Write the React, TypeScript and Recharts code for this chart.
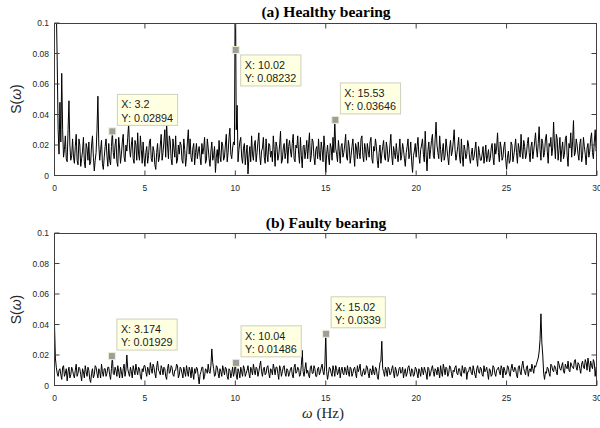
import React from 'react';
import { LineChart, Line, XAxis, YAxis, Scatter } from 'recharts';

const FREQ_STEP = 0.1;
const HALF_STEP = 0.05;
const X_TICKS = [0, 5, 10, 15, 20, 25, 30];
const Y_TICKS = [0, 0.02, 0.04, 0.06, 0.08, 0.1];

// (a) Healthy bearing, S(w) read at 0, 0.1, 0.2 ... 30 Hz
const healthy = [
  0.16, 0.11, 0.03, 0.048, 0.067, 0.012, 0.026, 0.009, 0.049, 0.01,
  0.024, 0.008, 0.027, 0.007, 0.02, 0.011, 0.025, 0.005, 0.018, 0.022,
  0.009, 0.026, 0.003, 0.015, 0.052, 0.01, 0.023, 0.004, 0.019, 0.013,
  0.021, 0.007, 0.029, 0.011, 0.024, 0.006, 0.018, 0.014, 0.027, 0.009,
  0.016, 0.034, 0.012, 0.025, 0.008, 0.02, 0.028, 0.01, 0.017, 0.022,
  0.006, 0.019, 0.013, 0.024, 0.009, 0.016, 0.004, 0.021, 0.012, 0.027,
  0.015, 0.03, 0.035, 0.011, 0.023, 0.007, 0.018, 0.026, 0.01, 0.014,
  0.02, 0.008, 0.017, 0.012, 0.03, 0.024, 0.009, 0.021, 0.015, 0.011,
  0.019, 0.007, 0.014, 0.025, 0.01, 0.018, 0.006, 0.022, 0.013, 0.002,
  0.017, 0.023, 0.009, 0.02, 0.012, 0.027, 0.015, 0.031, 0.011, 0.022,
  0.14, 0.046, 0.017, 0.025, 0.008, 0.021, 0.014, 0.001, 0.019, 0.026,
  0.01, 0.023, 0.015, 0.028, 0.007, 0.018, 0.012, 0.024, 0.009, 0.02,
  0.016, 0.026, 0.006, 0.019, 0.013, 0.029, 0.01, 0.021, 0.015, 0.008,
  0.023, 0.012, 0.027, 0.009, 0.018, 0.014, 0.025, 0.005, 0.02, 0.016,
  0.011, 0.028, 0.013, 0.022, 0.007, 0.019, 0.024, 0.01, 0.017, 0.026,
  0.002, 0.02, 0.007, 0.018, 0.025, 0.036, 0.014, 0.023, 0.008, 0.021,
  0.015, 0.027, 0.01, 0.019, 0.013, 0.024, 0.006, 0.018, 0.022, 0.011,
  0.026, 0.009, 0.017, 0.021, 0.012, 0.025, 0.008, 0.016, 0.019, 0.005,
  0.02, 0.014, 0.023, 0.01, 0.018, 0.012, 0.027, 0.007, 0.015, 0.021,
  0.009, 0.024, 0.013, 0.017, 0.006, 0.019, 0.011, 0.022, 0.002, 0.016,
  0.012, 0.025, 0.008, 0.02, 0.014, 0.029, 0.003, 0.022, 0.017, 0.027,
  0.011, 0.035, 0.015, 0.026, 0.009, 0.021, 0.013, 0.018, 0.007, 0.023,
  0.016, 0.03, 0.01, 0.019, 0.012, 0.024, 0.006, 0.017, 0.014, 0.02,
  0.008, 0.018, 0.012, 0.022, 0.006, 0.015, 0.01, 0.019, 0.013, 0.009,
  0.017, 0.011, 0.021, 0.007, 0.014, 0.028, 0.009, 0.018, 0.012, 0.022,
  0.004, 0.016, 0.01, 0.02, 0.013, 0.024, 0.008, 0.017, 0.027, 0.011,
  0.019, 0.014, 0.025, 0.009, 0.022, 0.016, 0.028, 0.012, 0.032, 0.01,
  0.021, 0.015, 0.027, 0.008, 0.019, 0.013, 0.035, 0.011, 0.024, 0.017,
  0.009, 0.022, 0.014, 0.026, 0.006, 0.018, 0.012, 0.036, 0.015, 0.02,
  0.01, 0.024, 0.013, 0.019, 0.007, 0.021, 0.016, 0.028, 0.011, 0.03,
  0.018,
];

// (a) values read at the half steps 0.05, 0.15 ... 29.95 Hz
const healthyHalf = [
  0.15, 0.075, 0.014, 0.022, 0.03, 0.017, 0.011, 0.03, 0.02, 0.013,
  0.012, 0.019, 0.01, 0.024, 0.006, 0.016, 0.009, 0.021, 0.01, 0.007,
  0.02, 0.012, 0.01, 0.03, 0.02, 0.017, 0.008, 0.012, 0.024, 0.006,
  0.01, 0.019, 0.015, 0.02, 0.009, 0.025, 0.008, 0.022, 0.012, 0.02,
  0.025, 0.018, 0.02, 0.011, 0.023, 0.01, 0.014, 0.026, 0.008, 0.012,
  0.015, 0.008, 0.022, 0.011, 0.019, 0.007, 0.015, 0.009, 0.02, 0.01,
  0.022, 0.012, 0.02, 0.026, 0.011, 0.024, 0.012, 0.008, 0.02, 0.022,
  0.01, 0.024, 0.006, 0.022, 0.014, 0.012, 0.018, 0.007, 0.021, 0.016,
  0.012, 0.021, 0.018, 0.008, 0.024, 0.011, 0.016, 0.01, 0.019, 0.012,
  0.008, 0.013, 0.022, 0.01, 0.02, 0.009, 0.025, 0.014, 0.018, 0.02,
  0.03, 0.009, 0.022, 0.012, 0.018, 0.007, 0.02, 0.012, 0.009, 0.014,
  0.02, 0.009, 0.022, 0.013, 0.016, 0.025, 0.008, 0.014, 0.021, 0.012,
  0.009, 0.017, 0.022, 0.01, 0.02, 0.008, 0.018, 0.011, 0.024, 0.019,
  0.016, 0.021, 0.011, 0.02, 0.026, 0.008, 0.013, 0.019, 0.011, 0.023,
  0.02, 0.009, 0.024, 0.012, 0.017, 0.011, 0.014, 0.022, 0.009, 0.018,
  0.014, 0.012, 0.021, 0.01, 0.015, 0.018, 0.009, 0.016, 0.019, 0.012,
  0.02, 0.012, 0.023, 0.008, 0.019, 0.014, 0.021, 0.011, 0.015, 0.024,
  0.013, 0.021, 0.01, 0.016, 0.022, 0.011, 0.019, 0.024, 0.01, 0.015,
  0.008, 0.019, 0.012, 0.022, 0.009, 0.02, 0.013, 0.019, 0.011, 0.014,
  0.016, 0.01, 0.021, 0.011, 0.015, 0.024, 0.014, 0.009, 0.013, 0.021,
  0.019, 0.013, 0.017, 0.024, 0.009, 0.014, 0.016, 0.011, 0.023, 0.013,
  0.024, 0.02, 0.011, 0.017, 0.016, 0.01, 0.024, 0.012, 0.018, 0.013,
  0.022, 0.017, 0.014, 0.025, 0.008, 0.013, 0.02, 0.011, 0.023, 0.012,
  0.014, 0.01, 0.017, 0.011, 0.019, 0.01, 0.014, 0.008, 0.02, 0.013,
  0.009, 0.018, 0.012, 0.021, 0.018, 0.015, 0.022, 0.01, 0.019, 0.011,
  0.012, 0.008, 0.022, 0.009, 0.018, 0.015, 0.021, 0.012, 0.016, 0.023,
  0.011, 0.021, 0.015, 0.019, 0.011, 0.022, 0.018, 0.021, 0.017, 0.024,
  0.012, 0.024, 0.016, 0.021, 0.025, 0.018, 0.02, 0.027, 0.01, 0.025,
  0.017, 0.011, 0.024, 0.013, 0.021, 0.028, 0.022, 0.013, 0.024, 0.014,
  0.021, 0.009, 0.025, 0.014, 0.018, 0.012, 0.024, 0.015, 0.022, 0.016,
];

// (b) Faulty bearing, read at 0, 0.1, 0.2 ... 30 Hz
const faulty = [
  0.04, 0.012, 0.006, 0.011, 0.004, 0.013, 0.008, 0.003, 0.012, 0.007,
  0.01, 0.005, 0.014, 0.008, 0.011, 0.003, 0.009, 0.013, 0.006, 0.01,
  0.002, 0.011, 0.007, 0.012, 0.005, 0.009, 0.014, 0.006, 0.011, 0.008,
  0.012, 0.004, 0.019, 0.007, 0.01, 0.013, 0.005, 0.009, 0.011, 0.006,
  0.02, 0.008, 0.012, 0.005, 0.01, 0.014, 0.007, 0.011, 0.004, 0.009,
  0.013, 0.006, 0.01, 0.015, 0.008, 0.012, 0.005, 0.016, 0.009, 0.013,
  0.007, 0.011, 0.004, 0.014, 0.009, 0.012, 0.006, 0.01, 0.013, 0.007,
  0.011, 0.005, 0.009, 0.013, 0.006, 0.01, 0.012, 0.004, 0.008, 0.011,
  0.001, 0.009, 0.012, 0.006, 0.01, 0.014, 0.008, 0.024, 0.011, 0.007,
  0.012, 0.005, 0.009, 0.013, 0.007, 0.011, 0.004, 0.01, 0.008, 0.006,
  0.015, 0.004, 0.009, 0.012, 0.006, 0.011, 0.008, 0.013, 0.005, 0.01,
  0.014, 0.007, 0.011, 0.009, 0.016, 0.006, 0.012, 0.008, 0.013, 0.005,
  0.01, 0.014, 0.007, 0.012, 0.004, 0.011, 0.009, 0.013, 0.006, 0.01,
  0.008, 0.012, 0.005, 0.014, 0.009, 0.011, 0.007, 0.023, 0.006, 0.015,
  0.01, 0.005, 0.013, 0.008, 0.011, 0.006, 0.012, 0.009, 0.014, 0.007,
  0.034, 0.004, 0.012, 0.008, 0.013, 0.006, 0.011, 0.009, 0.005, 0.012,
  0.007, 0.01, 0.013, 0.006, 0.011, 0.008, 0.012, 0.005, 0.009, 0.014,
  0.006, 0.011, 0.008, 0.012, 0.005, 0.01, 0.013, 0.007, 0.011, 0.004,
  0.015, 0.029, 0.009, 0.012, 0.006, 0.011, 0.008, 0.013, 0.005, 0.01,
  0.007, 0.012, 0.009, 0.005, 0.011, 0.008, 0.013, 0.006, 0.01, 0.007,
  0.011, 0.005, 0.009, 0.012, 0.007, 0.01, 0.004, 0.011, 0.008, 0.013,
  0.006, 0.01, 0.012, 0.005, 0.009, 0.014, 0.007, 0.011, 0.008, 0.012,
  0.005, 0.009, 0.013, 0.007, 0.011, 0.006, 0.01, 0.012, 0.004, 0.009,
  0.012, 0.007, 0.01, 0.005, 0.013, 0.008, 0.011, 0.006, 0.009, 0.012,
  0.004, 0.01, 0.007, 0.012, 0.006, 0.011, 0.009, 0.013, 0.005, 0.01,
  0.008, 0.012, 0.006, 0.014, 0.009, 0.011, 0.005, 0.013, 0.007, 0.016,
  0.009, 0.012, 0.006, 0.011, 0.014, 0.008, 0.012, 0.016, 0.022, 0.047,
  0.02, 0.004, 0.008, 0.011, 0.006, 0.013, 0.009, 0.012, 0.007, 0.014,
  0.01, 0.015, 0.008, 0.012, 0.016, 0.009, 0.013, 0.011, 0.017, 0.01,
  0.014, 0.008, 0.016, 0.011, 0.015, 0.018, 0.009, 0.013, 0.017, 0.006,
  0.011,
];

// (b) values read at the half steps 0.05, 0.15 ... 29.95 Hz
const faultyHalf = [
  0.018, 0.008, 0.01, 0.007, 0.012, 0.006, 0.011, 0.009, 0.005, 0.012,
  0.007, 0.01, 0.006, 0.012, 0.007, 0.011, 0.005, 0.009, 0.012, 0.004,
  0.008, 0.005, 0.013, 0.008, 0.011, 0.005, 0.009, 0.011, 0.006, 0.012,
  0.007, 0.011, 0.008, 0.012, 0.006, 0.009, 0.012, 0.005, 0.014, 0.01,
  0.011, 0.006, 0.009, 0.013, 0.007, 0.01, 0.012, 0.006, 0.011, 0.013,
  0.009, 0.012, 0.007, 0.011, 0.014, 0.008, 0.012, 0.01, 0.007, 0.011,
  0.012, 0.006, 0.011, 0.008, 0.013, 0.007, 0.01, 0.014, 0.005, 0.012,
  0.008, 0.012, 0.006, 0.009, 0.012, 0.005, 0.008, 0.011, 0.012, 0.006,
  0.007, 0.012, 0.004, 0.011, 0.008, 0.009, 0.013, 0.015, 0.006, 0.013,
  0.008, 0.011, 0.006, 0.01, 0.012, 0.006, 0.011, 0.005, 0.012, 0.009,
  0.007, 0.011, 0.005, 0.009, 0.013, 0.006, 0.01, 0.008, 0.012, 0.007,
  0.01, 0.012, 0.006, 0.013, 0.009, 0.011, 0.007, 0.012, 0.008, 0.011,
  0.007, 0.011, 0.012, 0.008, 0.013, 0.006, 0.012, 0.008, 0.011, 0.006,
  0.011, 0.007, 0.012, 0.008, 0.012, 0.006, 0.013, 0.009, 0.011, 0.008,
  0.007, 0.012, 0.008, 0.013, 0.006, 0.011, 0.007, 0.012, 0.009, 0.013,
  0.009, 0.008, 0.011, 0.006, 0.01, 0.013, 0.007, 0.012, 0.01, 0.008,
  0.012, 0.007, 0.009, 0.012, 0.006, 0.011, 0.008, 0.013, 0.011, 0.007,
  0.009, 0.007, 0.013, 0.008, 0.011, 0.007, 0.009, 0.012, 0.006, 0.01,
  0.016, 0.011, 0.006, 0.01, 0.012, 0.007, 0.011, 0.008, 0.012, 0.006,
  0.011, 0.008, 0.012, 0.009, 0.006, 0.012, 0.009, 0.011, 0.006, 0.012,
  0.008, 0.011, 0.006, 0.01, 0.012, 0.008, 0.012, 0.006, 0.011, 0.009,
  0.011, 0.007, 0.009, 0.013, 0.006, 0.011, 0.012, 0.006, 0.013, 0.008,
  0.01, 0.012, 0.008, 0.011, 0.007, 0.013, 0.008, 0.011, 0.009, 0.012,
  0.008, 0.013, 0.007, 0.011, 0.009, 0.012, 0.007, 0.013, 0.01, 0.008,
  0.011, 0.006, 0.013, 0.008, 0.01, 0.012, 0.007, 0.011, 0.012, 0.007,
  0.013, 0.008, 0.011, 0.01, 0.012, 0.007, 0.012, 0.009, 0.013, 0.011,
  0.007, 0.013, 0.01, 0.009, 0.011, 0.013, 0.014, 0.018, 0.03, 0.028,
  0.008, 0.009, 0.012, 0.008, 0.014, 0.01, 0.013, 0.009, 0.016, 0.011,
  0.013, 0.009, 0.014, 0.011, 0.01, 0.015, 0.012, 0.016, 0.012, 0.015,
  0.011, 0.014, 0.012, 0.017, 0.01, 0.014, 0.016, 0.011, 0.015, 0.012,
];

const healthyTips = [
  { f: 3.2, s: 0.02894 },
  { f: 10.02, s: 0.08232 },
  { f: 15.53, s: 0.03646 },
];
const faultyTips = [
  { f: 3.174, s: 0.01929 },
  { f: 10.04, s: 0.01486 },
  { f: 15.02, s: 0.0339 },
];

// label placement (layout only)
const healthyTipSide = ['above', 'below', 'above'];
const faultyTipSide = ['above', 'above', 'above'];

const SANS = '"Liberation Sans", Arial, Helvetica, sans-serif';
const SERIF = '"Liberation Serif", "Times New Roman", serif';
const AXIS_COLOR = '#404040';
const TEXT_COLOR = '#262626';

const X_MAX = X_TICKS[X_TICKS.length - 1];
const Y_MAX = Y_TICKS[Y_TICKS.length - 1];

// layout of each axes box (page pixels)
const CHART_W = 600;
const PLOT_LEFT = 54.5;
const PLOT_RIGHT = 597;
const PANELS = [
  { top: 0, height: 200, plotTop: 23, plotBottom: 175.5 },
  { top: 210, height: 218, plotTop: 233, plotBottom: 385.5 },
];
const X_AXIS_H = 20;

const toSeries = (main: number[], half: number[]) => {
  const out: { f: number; s: number }[] = [];
  main.forEach((s, i) => {
    out.push({ f: i * FREQ_STEP, s });
    if (i < half.length) out.push({ f: i * FREQ_STEP + HALF_STEP, s: half[i] });
  });
  return out;
};

const textWidth = (t: string, fs: number) => {
  let w = 0;
  for (const c of t) {
    if (c === 'X' || c === 'Y') w += 0.667;
    else if (c === ':' || c === '.' || c === ' ') w += 0.278;
    else w += 0.556;
  }
  return w * fs;
};

const makeTipShape = (tips: { f: number; s: number }[], sides: string[]) => (props: any) => {
  const { cx, cy, payload } = props;
  if (cx == null || cy == null || !payload) return <g />;
  const idx = tips.findIndex((t) => t.f === payload.f);
  const side = sides[idx] || 'above';
  const fs = 10.8;
  const l1 = `X: ${payload.f}`;
  const l2 = `Y: ${payload.s}`;
  const w = Math.max(textWidth(l1, fs), textWidth(l2, fs)) + 8;
  const h = 31;
  const bx = cx + 5;
  const by = side === 'below' ? cy + 5 : cy - 6 - h;
  return (
    <g>
      <rect x={bx} y={by} width={w} height={h} fill="#ffffe1" stroke="#cfcfbd" strokeWidth={1} />
      <text x={bx + 4} y={by + 13.8} fontSize={fs} fontFamily={SANS} fill="#1a1a1a">{l1}</text>
      <text x={bx + 4} y={by + 27.3} fontSize={fs} fontFamily={SANS} fill="#1a1a1a">{l2}</text>
      <rect x={cx - 3.5} y={cy - 3.5} width={7} height={7} fill="#9d9d9d" stroke="#efefcf" strokeWidth={1} />
    </g>
  );
};

type PanelProps = {
  main: number[];
  half: number[];
  tips: { f: number; s: number }[];
  sides: string[];
  layout: { top: number; height: number; plotTop: number; plotBottom: number };
};

const Panel = ({ main, half, tips, sides, layout }: PanelProps) => {
  const series = toSeries(main, half);
  const tickStyle = { fontSize: 8.5, fontFamily: SANS, fill: TEXT_COLOR };
  const margin = {
    top: layout.plotTop - layout.top,
    right: CHART_W - PLOT_RIGHT,
    bottom: layout.top + layout.height - layout.plotBottom - X_AXIS_H,
    left: 0,
  };
  return (
    <LineChart width={CHART_W} height={layout.height} data={series} margin={margin}>
      <XAxis
        dataKey="f"
        type="number"
        domain={[0, X_MAX]}
        ticks={X_TICKS}
        interval={0}
        height={X_AXIS_H}
        tickSize={-5}
        tickMargin={14}
        tick={tickStyle}
        axisLine={{ stroke: AXIS_COLOR }}
        tickLine={{ stroke: AXIS_COLOR }}
        allowDataOverflow
      />
      <YAxis
        dataKey="s"
        type="number"
        domain={[0, Y_MAX]}
        ticks={Y_TICKS}
        interval={0}
        width={PLOT_LEFT}
        tickSize={-5}
        tickMargin={10.5}
        tick={tickStyle}
        axisLine={{ stroke: AXIS_COLOR }}
        tickLine={{ stroke: AXIS_COLOR }}
        allowDataOverflow
      />
      <Line
        dataKey="s"
        type="linear"
        stroke="#000"
        strokeWidth={1}
        dot={false}
        activeDot={false}
        isAnimationActive={false}
      />
      <Scatter data={tips} dataKey="s" shape={makeTipShape(tips, sides)} isAnimationActive={false} />
    </LineChart>
  );
};

// top and right sides of the axes box, with inward ticks (MATLAB "box on")
const FrameTopRight = ({ plotTop, plotBottom }: { plotTop: number; plotBottom: number }) => {
  const w = PLOT_RIGHT - PLOT_LEFT;
  const h = plotBottom - plotTop;
  const top = plotTop + 0.5;
  const right = PLOT_RIGHT - 0.5;
  return (
    <g>
      <rect
        x={PLOT_LEFT}
        y={top}
        width={right - PLOT_LEFT}
        height={plotBottom - top}
        fill="none"
        stroke={AXIS_COLOR}
        strokeWidth={1}
      />
      {X_TICKS.slice(1, -1).map((t) => {
        const x = PLOT_LEFT + (t / X_MAX) * w;
        return <line key={`x${t}`} x1={x} y1={top} x2={x} y2={top + 5} stroke={AXIS_COLOR} strokeWidth={1} />;
      })}
      {Y_TICKS.slice(1, -1).map((t) => {
        const y = plotBottom - (t / Y_MAX) * h;
        return <line key={`y${t}`} x1={right} y1={y} x2={right - 5} y2={y} stroke={AXIS_COLOR} strokeWidth={1} />;
      })}
    </g>
  );
};

export default function App() {
  return (
    <div style={{ position: 'absolute', left: 0, top: 0, width: 600, height: 428, background: '#fff' }}>
      <div style={{ position: 'absolute', left: 0, top: PANELS[0].top, zIndex: 1 }}>
        <Panel main={healthy} half={healthyHalf} tips={healthyTips} sides={healthyTipSide} layout={PANELS[0]} />
      </div>
      <div style={{ position: 'absolute', left: 0, top: PANELS[1].top, zIndex: 1 }}>
        <Panel main={faulty} half={faultyHalf} tips={faultyTips} sides={faultyTipSide} layout={PANELS[1]} />
      </div>
      <svg
        width={600}
        height={428}
        viewBox="0 0 600 428"
        style={{ position: 'absolute', left: 0, top: 0, zIndex: 5, pointerEvents: 'none', overflow: 'visible' }}
      >
        <FrameTopRight plotTop={PANELS[0].plotTop} plotBottom={PANELS[0].plotBottom} />
        <FrameTopRight plotTop={PANELS[1].plotTop} plotBottom={PANELS[1].plotBottom} />
        <text x={326} y={16.5} textAnchor="middle" fontFamily={SERIF} fontWeight="bold" fontSize={15.5} fill="#000">
          (a) Healthy bearing
        </text>
        <text x={326} y={228} textAnchor="middle" fontFamily={SERIF} fontWeight="bold" fontSize={15.5} fill="#000">
          (b) Faulty bearing
        </text>
        <text
          x={20.5}
          y={99}
          textAnchor="middle"
          fontFamily={SANS}
          fontSize={14}
          fill={TEXT_COLOR}
          transform="rotate(-90 20.5 99)"
        >
          S(<tspan fontStyle="italic">ω</tspan>)
        </text>
        <text
          x={20.5}
          y={309.5}
          textAnchor="middle"
          fontFamily={SANS}
          fontSize={14}
          fill={TEXT_COLOR}
          transform="rotate(-90 20.5 309.5)"
        >
          S(<tspan fontStyle="italic">ω</tspan>)
        </text>
        <text x={323} y={417.5} textAnchor="middle" fontFamily={SERIF} fontSize={15} fill={TEXT_COLOR}>
          <tspan fontStyle="italic">ω</tspan>
          {'  (Hz)'}
        </text>
      </svg>
    </div>
  );
}
